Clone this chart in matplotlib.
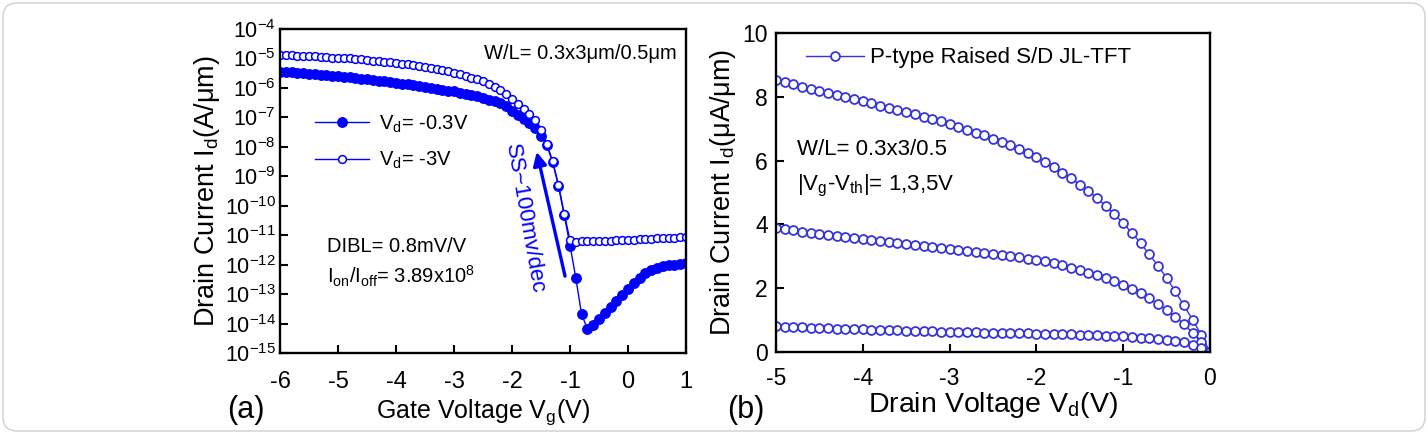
import numpy as np
import matplotlib
matplotlib.use('Agg')
import matplotlib.pyplot as plt
from matplotlib.patches import FancyBboxPatch

plt.rcParams['font.family'] = ['Liberation Sans', 'DejaVu Sans']
plt.rcParams['mathtext.fontset'] = 'custom'
plt.rcParams['mathtext.rm'] = 'Liberation Sans'
plt.rcParams['mathtext.it'] = 'Liberation Sans:italic'
plt.rcParams['mathtext.bf'] = 'Liberation Sans:bold'
plt.rcParams['axes.unicode_minus'] = False

# (a) transfer curves, gate voltage sweep -6 .. 1 V in 0.1 V steps
vg = np.round(np.arange(-6.0, 1.001, 0.1), 1)
# log10 of drain current (A/um)
log_id_vd03 = [-5.45, -5.46, -5.47, -5.49, -5.50, -5.52, -5.53, -5.55, -5.56, -5.58,
               -5.60, -5.62, -5.64, -5.66, -5.68, -5.70, -5.72, -5.75, -5.77, -5.80,
               -5.83, -5.85, -5.88, -5.91, -5.94, -5.97, -6.00, -6.03, -6.06, -6.09,
               -6.12, -6.16, -6.20, -6.25, -6.29, -6.34, -6.40, -6.46, -6.52, -6.62,
               -6.78, -6.92, -7.06, -7.20, -7.36, -7.62, -7.95, -8.52, -9.32, -10.32,
               -11.35, -12.45, -13.69, -14.18, -14.05, -13.85, -13.63, -13.43, -13.22, -13.02,
               -12.82, -12.62, -12.44, -12.28, -12.18, -12.11, -12.06, -12.02, -12.00, -11.97,
               -11.95]
log_id_vd3 = [-4.87, -4.88, -4.89, -4.90, -4.91, -4.92, -4.93, -4.94, -4.96, -4.97,
              -4.98, -4.99, -5.00, -5.02, -5.03, -5.05, -5.07, -5.09, -5.11, -5.13,
              -5.15, -5.18, -5.20, -5.23, -5.26, -5.29, -5.32, -5.36, -5.40, -5.44,
              -5.49, -5.54, -5.59, -5.65, -5.71, -5.78, -5.87, -5.96, -6.06, -6.20,
              -6.38, -6.54, -6.71, -6.88, -7.08, -7.42, -7.89, -8.49, -9.28, -10.27,
              -11.17, -11.22, -11.21, -11.20, -11.20, -11.19, -11.19, -11.18, -11.17, -11.17,
              -11.16, -11.15, -11.14, -11.13, -11.12, -11.11, -11.10, -11.09, -11.08, -11.07,
              -11.05]
legend_a = ['V$_\\mathrm{d}$= -0.3V', 'V$_\\mathrm{d}$= -3V']

# (b) output curves, drain voltage -5 .. 0 V in 0.1 V steps, current in uA/um
vd = np.round(np.arange(-5.0, 0.001, 0.1), 1)
id_5v = [8.54, 8.47, 8.39, 8.31, 8.24, 8.17, 8.11, 8.05, 7.98, 7.92,
         7.86, 7.79, 7.72, 7.66, 7.59, 7.52, 7.45, 7.38, 7.31, 7.23,
         7.15, 7.06, 6.97, 6.88, 6.79, 6.69, 6.59, 6.48, 6.37, 6.25,
         6.12, 5.96, 5.79, 5.62, 5.44, 5.25, 5.04, 4.83, 4.57, 4.31,
         4.04, 3.73, 3.42, 3.06, 2.71, 2.32, 1.90, 1.46, 1.01, 0.54,
         0.00]
id_3v = [3.89, 3.85, 3.81, 3.77, 3.74, 3.70, 3.67, 3.63, 3.60, 3.56,
         3.53, 3.50, 3.47, 3.44, 3.41, 3.38, 3.35, 3.32, 3.29, 3.26,
         3.23, 3.20, 3.17, 3.13, 3.10, 3.07, 3.04, 3.00, 2.97, 2.93,
         2.89, 2.84, 2.78, 2.72, 2.64, 2.56, 2.48, 2.40, 2.32, 2.22,
         2.11, 1.98, 1.84, 1.68, 1.50, 1.31, 1.11, 0.87, 0.60, 0.31,
         0.00]
id_1v = [0.80, 0.79, 0.78, 0.77, 0.76, 0.75, 0.74, 0.73, 0.72, 0.71,
         0.71, 0.70, 0.69, 0.68, 0.68, 0.67, 0.66, 0.66, 0.65, 0.64,
         0.64, 0.63, 0.62, 0.62, 0.61, 0.61, 0.60, 0.59, 0.59, 0.58,
         0.57, 0.57, 0.56, 0.55, 0.55, 0.54, 0.53, 0.52, 0.51, 0.50,
         0.49, 0.47, 0.45, 0.43, 0.41, 0.38, 0.34, 0.30, 0.23, 0.13,
         0.00]
legend_b = 'P-type Raised S/D JL-TFT'

BLUE = '#0000ff'
BLUE_B = '#3535dd'


def style_axes(ax, tick_size):
    for sp in ax.spines.values():
        sp.set_linewidth(1.7)
    ax.tick_params(direction='in', length=6, width=1.5, labelsize=tick_size,
                   top=False, right=False, pad=6)


fig = plt.figure(figsize=(14.28, 4.34), dpi=100)

# ---------------- panel (a) ----------------
ax1 = fig.add_axes([0.1961, 0.1866, 0.2843, 0.7465])
ax1.plot(vg, 10.0 ** np.array(log_id_vd03), '-o', color=BLUE, lw=1.0,
         ms=6.8, mfc=BLUE, mec=BLUE, label=legend_a[0])
ax1.plot(vg, 10.0 ** np.array(log_id_vd3), '-o', color=BLUE, lw=1.0,
         ms=5.6, mfc='white', mec=BLUE, mew=1.1, label=legend_a[1])
ax1.set_yscale('log')
ax1.set_xlim(-6, 1)
ax1.set_ylim(1e-15, 1e-4)
ax1.set_xticks(range(-6, 2))
ax1.set_yticks([10.0 ** k for k in range(-15, -3)])
ax1.minorticks_off()
style_axes(ax1, 17)
ax1.tick_params(axis='x', pad=13)
ax1.tick_params(axis='y', labelsize=15.5, pad=3)
ax1.set_xlabel('Gate Voltage V$_\\mathrm{g}$(V)', fontsize=18, labelpad=3)
ax1.set_ylabel('Drain Current I$_\\mathrm{d}$(A/μm)', fontsize=19.5, labelpad=2)

ax1.legend(loc='upper left', bbox_to_anchor=(0.085, 0.74), frameon=False,
           fontsize=14.5, handlelength=2.7, handletextpad=0.5,
           labelspacing=0.75, borderpad=0, borderaxespad=0)

ax1.text(0.977, 0.926, 'W/L= 0.3x3μm/0.5μm', transform=ax1.transAxes,
         fontsize=14.5, ha='right', va='center')
ax1.text(0.115, 0.328, 'DIBL= 0.8mV/V', transform=ax1.transAxes,
         fontsize=14.5, ha='left', va='center')
ax1.text(0.115, 0.235, 'I$_\\mathrm{on}$/I$_\\mathrm{off}$= 3.89x10$^8$',
         transform=ax1.transAxes, fontsize=14.5, ha='left', va='center')
ax1.text(-1.79, 10 ** -10.45, 'SS~100mv/dec', color=BLUE, fontsize=16,
         rotation=-80, rotation_mode='anchor', ha='center', va='center')
ax1.annotate('', xy=(-1.574, 10 ** -8.17), xytext=(-1.086, 10 ** -12.39),
             arrowprops=dict(arrowstyle='-|>', color=BLUE, lw=2.4,
                             mutation_scale=20, shrinkA=0, shrinkB=0))

# ---------------- panel (b) ----------------
ax2 = fig.add_axes([0.5434, 0.189, 0.3039, 0.735])
for k, series in enumerate([id_5v, id_3v, id_1v]):
    ax2.plot(vd, series, '-o', color=BLUE_B, lw=1.0, ms=6.4, mfc='white',
             mec=BLUE_B, mew=1.3, label=legend_b if k == 0 else None)
ax2.set_xlim(-5, 0)
ax2.set_ylim(0, 10)
ax2.set_xticks(range(-5, 1))
ax2.set_yticks(range(0, 11, 2))
style_axes(ax2, 16.5)
ax2.tick_params(axis='x', pad=11)
ax2.set_xlabel('Drain Voltage V$_\\mathrm{d}$(V)', fontsize=20.5, labelpad=0)
ax2.set_ylabel('Drain Current I$_\\mathrm{d}$(μA/μm)', fontsize=19.5, labelpad=3)
ax2.legend(loc='upper left', bbox_to_anchor=(0.07, 0.955), frameon=False,
           fontsize=16, handlelength=2.6, handletextpad=0.25,
           borderpad=0, borderaxespad=0)
ax2.text(0.048, 0.635, 'W/L= 0.3x3/0.5', transform=ax2.transAxes,
         fontsize=16, ha='left', va='center')
ax2.text(0.048, 0.52, '|V$_\\mathrm{g}$-V$_\\mathrm{th}$|= 1,3,5V',
         transform=ax2.transAxes, fontsize=16, ha='left', va='center')

# panel tags
fig.text(246 / 1428, 1 - 410 / 434, '(a)', fontsize=22, ha='center', va='center')
fig.text(746 / 1428, 1 - 410 / 434, '(b)', fontsize=22, ha='center', va='center')

# light rounded frame around the whole picture
frame = FancyBboxPatch((3, 3), 1422, 428, boxstyle='round,pad=0,rounding_size=14',
                       transform=None, fill=False, edgecolor='#cfcfcf', lw=1.0)
fig.patches.append(frame)

fig.savefig('out.png', dpi=100)
